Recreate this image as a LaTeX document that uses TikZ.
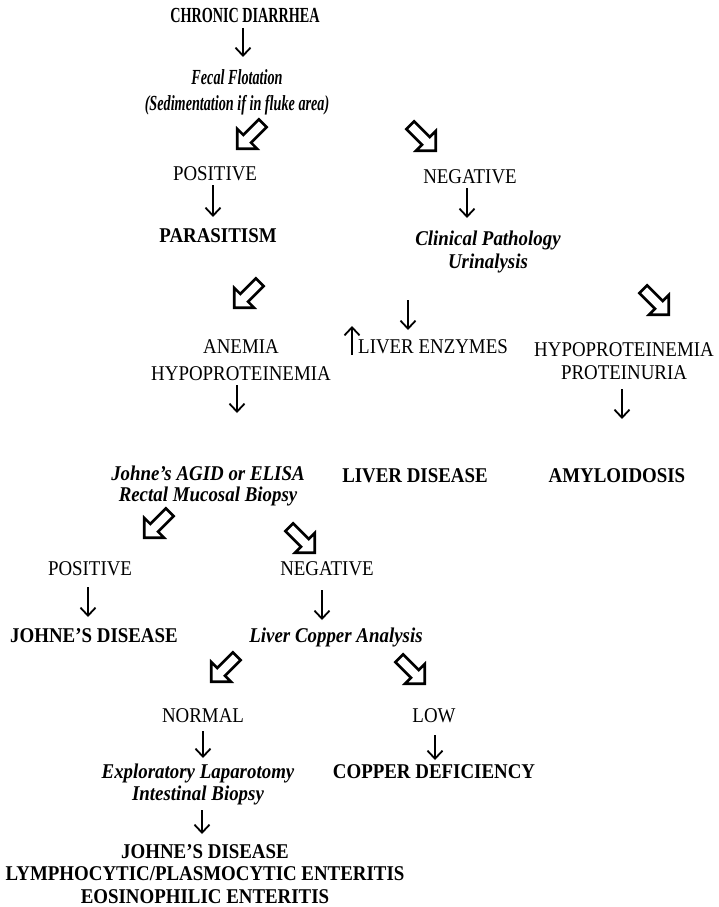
\documentclass[tikz,border=0pt]{standalone}
\usepackage{fontspec}
\setmainfont{Liberation Serif}[FakeStretch=0.9]
\newfontfamily\narrowf{Liberation Serif}[FakeStretch=0.66]
\usetikzlibrary{arrows.meta}
\begin{document}
\begin{tikzpicture}[x=1pt,y=-1pt,
  txt/.style={inner sep=0pt, anchor=base, align=center, font=\fontsize{21}{#1}\selectfont},
  txt/.default=24,
  boldtxt/.style={txt, font=\fontsize{21}{#1}\selectfont\bfseries},
  boldtxt/.default=24,
  testtxt/.style={txt, font=\fontsize{21}{#1}\selectfont\bfseries\itshape},
  testtxt/.default=23,
  toptxt/.style={txt, font=\narrowf\fontsize{21.5}{25}\selectfont\bfseries},
  toptest/.style={txt, font=\narrowf\fontsize{21.5}{25}\selectfont\bfseries\itshape},
  thinarr/.style={line width=1.8pt, -{Straight Barb[length=8pt,width=15pt]}},
  hollow/.pic={\draw[line width=2.6pt, line join=miter, fill=white]
     (-18,-5.5) -- (4,-5.5) -- (4,-14) -- (18,0) -- (4,14) -- (4,5.5) -- (-18,5.5) -- cycle;}
]
\useasboundingbox[fill=white] (0,0) rectangle (718,907);

% nodes (base anchor = baseline of the last line)
\node[toptxt]     (cd)   at (245,23)  {CHRONIC DIARRHEA};
\node[toptest]    (ff)   at (237,110) {Fecal Flotation\\(Sedimentation if in fluke area)};
\node[txt]        (pos1) at (215,180) {POSITIVE};
\node[txt]        (neg1) at (470,183) {NEGATIVE};
\node[boldtxt]    (para) at (218,242) {PARASITISM};
\node[testtxt]    (cp)   at (488,268) {Clinical Pathology\\Urinalysis};
\node[txt=27]     (anhy) at (241,380) {ANEMIA\\HYPOPROTEINEMIA};
\node[txt, anchor=base west] (le) at (358,353) {LIVER ENZYMES};
\node[txt=23]     (hp)   at (624,379) {HYPOPROTEINEMIA\\PROTEINURIA};
\node[testtxt=21] (ja)   at (208,501) {Johne’s AGID or ELISA\\Rectal Mucosal Biopsy};
\node[boldtxt]    (ld)   at (415,482) {LIVER DISEASE};
\node[boldtxt]    (am)   at (617,482) {AMYLOIDOSIS};
\node[txt]        (pos2) at (90,575)  {POSITIVE};
\node[txt]        (neg2) at (327,575) {NEGATIVE};
\node[boldtxt]    (jd)   at (94,642)  {JOHNE’S DISEASE};
\node[testtxt]    (lca)  at (336,642) {Liver Copper Analysis};
\node[txt]        (nor)  at (203,722) {NORMAL};
\node[txt]        (low)  at (434,722) {LOW};
\node[testtxt=22] (ex)   at (198,800) {Exploratory Laparotomy\\Intestinal Biopsy};
\node[boldtxt]    (cu)   at (434,778) {COPPER DEFICIENCY};
\node[boldtxt=22.5] (fin) at (205,903) {JOHNE’S DISEASE\\LYMPHOCYTIC/PLASMOCYTIC ENTERITIS\\EOSINOPHILIC ENTERITIS};

% up arrow of LIVER ENZYMES
\draw[thinarr] (le.base west) ++(-6,2) -- ++(0,-29);

% thin down arrows
\draw[thinarr] (cd.base)   ++(-2,5)   -- ++(0,29);
\draw[thinarr] (pos1.base) ++(-2,5)   -- ++(0,32);
\draw[thinarr] (neg1.base) ++(-3,5)   -- ++(0,30);
\draw[thinarr] (cp.base)   ++(-80,32) -- ++(0,30);
\draw[thinarr] (anhy.base) ++(-4,5)   -- ++(0,28);
\draw[thinarr] (hp.base)   ++(-2,10)  -- ++(0,30);
\draw[thinarr] (pos2.base) ++(-2,12)  -- ++(0,30);
\draw[thinarr] (neg2.base) ++(-5,15)  -- ++(0,30);
\draw[thinarr] (nor.base)  ++(0,9)    -- ++(0,27);
\draw[thinarr] (low.base)  ++(1,13)   -- ++(0,25);
\draw[thinarr] (ex.base)   ++(4,10)   -- ++(0,24);

% hollow block arrows
\pic[rotate=225] at (250,136) {hollow};
\pic[rotate=-45] at (423,138) {hollow};
\pic[rotate=225] at (247,295) {hollow};
\pic[rotate=-45] at (656,302) {hollow};
\pic[rotate=225] at (157,525) {hollow};
\pic[rotate=-45] at (302,540) {hollow};
\pic[rotate=225] at (224,669) {hollow};
\pic[rotate=-45] at (412,671) {hollow};
\end{tikzpicture}
\end{document}
